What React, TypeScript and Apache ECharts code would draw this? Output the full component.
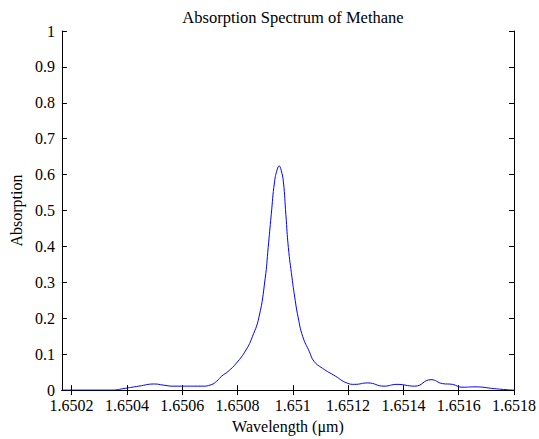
import React, { useEffect, useRef } from "react";
import * as echarts from "echarts";

const wavelengths = [
  1.650165, 1.650344, 1.650394, 1.650443, 1.6505, 1.650531, 1.650567, 1.650672,
  1.650705, 1.650725, 1.650743, 1.650766, 1.650796, 1.650831, 1.650854, 1.650878,
  1.6509, 1.650911, 1.650922, 1.650934, 1.650944, 1.650951, 1.650958, 1.650966,
  1.650975, 1.650984, 1.650997, 1.651007, 1.651019, 1.651036, 1.65106, 1.651077,
  1.651107, 1.651154, 1.651195, 1.651224, 1.651271, 1.65133, 1.651377, 1.651441,
  1.6515, 1.651542, 1.651577, 1.651612, 1.651659, 1.65173, 1.651775, 1.6518,
];
const absorption = [
  0, 0, 0.005, 0.011, 0.017, 0.014, 0.011, 0.011,
  0.015, 0.025, 0.039, 0.052, 0.075, 0.112, 0.149, 0.204,
  0.31, 0.397, 0.488, 0.58, 0.615, 0.624, 0.612, 0.58,
  0.488, 0.397, 0.314, 0.259, 0.204, 0.149, 0.107, 0.08,
  0.061, 0.039, 0.02, 0.016, 0.02, 0.011, 0.016, 0.011,
  0.029, 0.018, 0.016, 0.008, 0.009, 0.004, 0.001, 0,
];
const xTicks = [1.6502, 1.6504, 1.6506, 1.6508, 1.651, 1.6512, 1.6514, 1.6516, 1.6518];

const FONT = "Liberation Serif";

export default function App() {
  const ref = useRef<HTMLDivElement>(null);
  useEffect(() => {
    if (!ref.current) return;
    const chart = echarts.init(ref.current, undefined, { renderer: "svg" });
    const lineStyle = { color: "#000", width: 1 };
    const xFmt = (v: number) => String(parseFloat(Number(v).toFixed(4)));
    const yFmt = (v: number) => String(parseFloat(Number(v).toFixed(1)));
    chart.setOption({
      animation: false,
      backgroundColor: "#fff",
      title: {
        text: "Absorption Spectrum of Methane",
        left: 288,
        top: 4,
        textAlign: "center",
        textStyle: { fontFamily: FONT, fontSize: 16.5, fontWeight: "normal", color: "#000" },
      },
      grid: { left: 56, right: 19, top: 31, bottom: 45 },
      xAxis: [
        {
          type: "value",
          min: 1.650165,
          max: 1.6518,
          position: "bottom",
          name: "Wavelength (μm)",
          nameLocation: "middle",
          nameGap: 25,
          nameTextStyle: { fontFamily: FONT, fontSize: 16, color: "#000" },
          axisLine: { show: true, lineStyle },
          axisTick: { show: true, inside: true, length: 5, lineStyle, customValues: xTicks },
          axisLabel: {
            show: true,
            customValues: xTicks,
            formatter: xFmt,
            fontFamily: FONT,
            fontSize: 16,
            lineHeight: 14,
            color: "#000",
            margin: 8,
          },
          splitLine: { show: false },
        },
        {
          type: "value",
          min: 1.650165,
          max: 1.6518,
          position: "top",
          axisLine: { show: true, lineStyle },
          axisTick: { show: true, inside: true, length: 5, lineStyle, customValues: xTicks },
          axisLabel: { show: false },
          splitLine: { show: false },
        },
      ],
      yAxis: [
        {
          type: "value",
          min: 0,
          max: 1,
          interval: 0.1,
          position: "left",
          name: "Absorption",
          nameLocation: "middle",
          nameGap: 36,
          nameTextStyle: { fontFamily: FONT, fontSize: 16, color: "#000" },
          axisLine: { show: true, lineStyle },
          axisTick: { show: true, inside: true, length: 5, lineStyle },
          axisLabel: {
            show: true,
            formatter: yFmt,
            fontFamily: FONT,
            fontSize: 16,
            lineHeight: 14,
            padding: [0, 0, 2, 0],
            color: "#000",
            margin: 7,
          },
          splitLine: { show: false },
        },
        {
          type: "value",
          min: 0,
          max: 1,
          interval: 0.1,
          position: "right",
          axisLine: { show: true, lineStyle },
          axisTick: { show: true, inside: true, length: 5, lineStyle },
          axisLabel: { show: false },
          splitLine: { show: false },
        },
      ],
      series: [
        {
          type: "line",
          xAxisIndex: 0,
          yAxisIndex: 0,
          data: wavelengths.map((w, i) => [w, absorption[i]]),
          showSymbol: false,
          smooth: 0.5,
          lineStyle: { color: "#0000ff", width: 1 },
          itemStyle: { color: "#0000ff" },
        },
      ],
    });
    return () => chart.dispose();
  }, []);
  return <div ref={ref} style={{ width: 539, height: 439, position: "absolute", left: 0, top: 0 }} />;
}
